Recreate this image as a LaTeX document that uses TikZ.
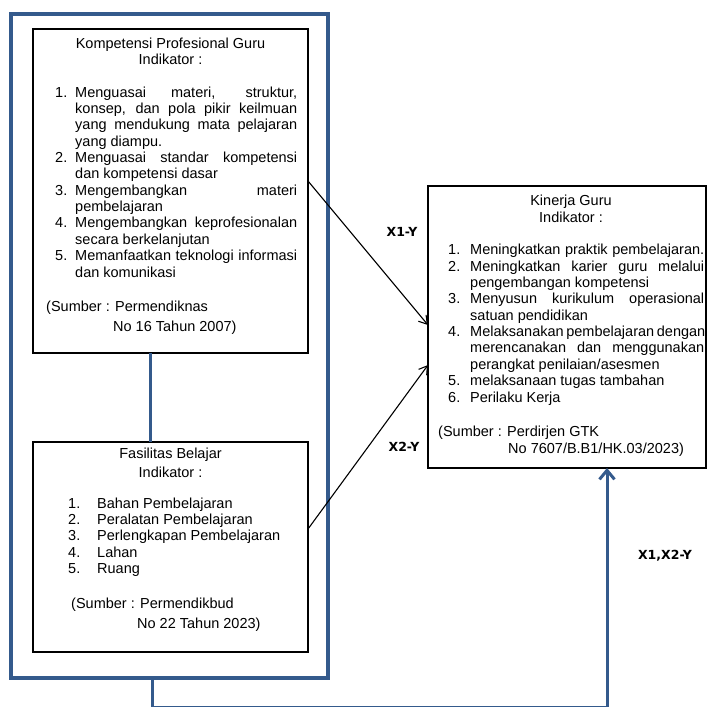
\documentclass[tikz,border=0pt]{standalone}
\usepackage{fontspec}
\setmainfont{Liberation Sans}
\newfontfamily\lblfont{DejaVu Sans}
\usetikzlibrary{arrows.meta,calc}
\definecolor{outblue}{RGB}{52,90,140}
\newlength{\numw}\newlength{\jw}
\newcommand{\jl}[1]{\makebox[\jw][s]{#1}}
\newcommand{\itm}[1]{\makebox[\numw][l]{#1}}
\newcommand{\ind}{\hspace*{\numw}}
\begin{document}
\begin{tikzpicture}[x=1pt,y=-1pt,
  box/.style={draw=black, line width=1.3pt, rectangle, inner sep=0pt, outer sep=0pt},
  txt/.style={inner sep=0pt, font=\fontsize{14.5}{16.35}\selectfont},
  lbl/.style={inner sep=0pt, font=\lblfont\bfseries\fontsize{12.5}{14}\selectfont},
  blueline/.style={draw=outblue, line width=3pt},
  arr/.style={draw=black, line width=1.1pt, -{Straight Barb[length=8pt,width=10pt]}}]
\useasboundingbox (0,0) rectangle (708,706);
% outer blue frame
\node[box, draw=outblue, line width=3.2pt, minimum width=317pt, minimum height=664pt] (outer) at (169.5,346) {};
% boxes
\node[box, minimum width=275pt, minimum height=324pt] (k1) at (170.5,191) {};
\node[box, minimum width=275pt, minimum height=210pt] (k2) at (170.5,547) {};
\node[box, minimum width=278pt, minimum height=282pt] (ky) at (567,327) {};
% box 1 text (anchors at the baseline of the last line)
\node[txt, align=center, anchor=base] (k1t) at (170.5,65) {Kompetensi Profesional Guru\\Indikator :};
\setlength{\numw}{20pt}\setlength{\jw}{222pt}
\node[txt, align=left, anchor=base west] (k1l) at (55,277) {%
\itm{1.}\jl{Menguasai materi, struktur,}\\
\ind\jl{konsep, dan pola pikir keilmuan}\\
\ind\jl{yang mendukung mata pelajaran}\\
\ind yang diampu.\\
\itm{2.}\jl{Menguasai standar kompetensi}\\
\ind dan kompetensi dasar\\
\itm{3.}\jl{Mengembangkan materi}\\
\ind pembelajaran\\
\itm{4.}\jl{Mengembangkan keprofesionalan}\\
\ind secara berkelanjutan\\
\itm{5.}\jl{Memanfaatkan teknologi informasi}\\
\ind dan komunikasi};
\node[txt, align=left, anchor=base west] (k1s) at (46,331) {(Sumber : Permendiknas\\[3.65pt]\hspace*{67pt}No 16 Tahun 2007)};
% box 2 text
\node[txt, align=center, anchor=base] (k2t) at (170.5,477) {Fasilitas Belajar\\[2pt]Indikator :};
\setlength{\numw}{29pt}
\node[txt, align=left, anchor=base west] (k2l) at (68,573.5) {%
\itm{1.}Bahan Pembelajaran\\
\itm{2.}Peralatan Pembelajaran\\
\itm{3.}Perlengkapan Pembelajaran\\
\itm{4.}Lahan\\
\itm{5.}Ruang};
\node[txt, align=left, anchor=base west] (k2s) at (71,628) {(Sumber : Permendikbud\\[3.65pt]\hspace*{66pt}No 22 Tahun 2023)};
% Kinerja text
\node[txt, align=center, anchor=base] (kyt) at (571,222) {Kinerja Guru\\Indikator :};
\setlength{\numw}{22pt}\setlength{\jw}{234pt}
\node[txt, align=left, anchor=base west] (kyl) at (448,402) {%
\itm{1.}\jl{Meningkatkan praktik pembelajaran.}\\
\itm{2.}\jl{Meningkatkan karier guru melalui}\\
\ind pengembangan kompetensi\\
\itm{3.}\jl{Menyusun kurikulum operasional}\\
\ind satuan pendidikan\\
\itm{4.}\jl{Melaksanakan pembelajaran dengan}\\
\ind\jl{merencanakan dan menggunakan}\\
\ind perangkat penilaian/asesmen\\
\itm{5.}melaksanaan tugas tambahan\\
\itm{6.}Perilaku Kerja};
\node[txt, align=left, anchor=base west] (kys) at (438,453) {(Sumber : Perdirjen GTK\\\hspace*{70pt}No 7607/B.B1/HK.03/2023)};
% connectors
\draw[arr] ([yshift=10pt]k1.east) -- ([yshift=2pt]ky.west);
\draw[arr] ([yshift=18pt]k2.east) -- ([yshift=-38pt]ky.west);
\draw[blueline] ([xshift=-20.5pt]k1.south) -- ([xshift=-20.5pt]k2.north);
\coordinate (bend) at (607,707.5);
\draw[blueline, -{Straight Barb[length=9pt,width=15pt]}] ([xshift=-17.5pt]outer.south) |- (bend) -- (ky.south -| bend);
% labels
\node[lbl] (l1) at (402,232) {X1-Y};
\node[lbl] (l2) at (404,447) {X2-Y};
\node[lbl] (l3) at (665,556) {X1,X2-Y};
\end{tikzpicture}
\end{document}
